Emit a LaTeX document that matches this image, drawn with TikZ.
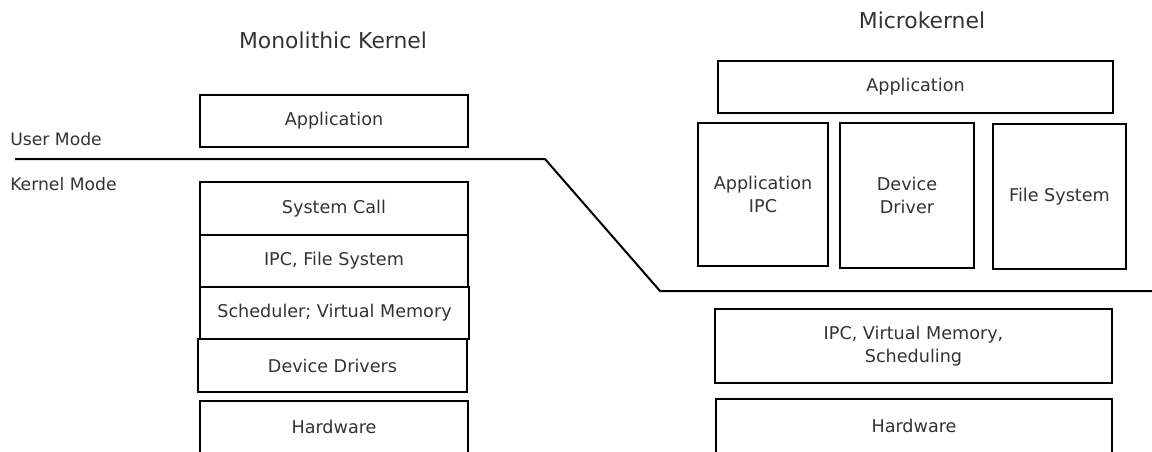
\documentclass[tikz,border=0pt]{standalone}
\usepackage{fontspec}
\setmainfont{DejaVu Sans}
\newcommand{\pxl}{0.75pt}
\tikzset{
  layer/.style = {draw, line width=1.4pt, align=center, inner sep=0pt, text=black!80, font=\fontsize{13.2}{17}\selectfont},
  caption/.style = {text=black!80, font=\fontsize{16.4}{19}\selectfont},
  modetext/.style = {anchor=west, inner sep=0pt, text=black!80, font=\fontsize{12.9}{15}\selectfont}
}
\begin{document}
\begin{tikzpicture}[x=0.75pt, y=-0.75pt]
\useasboundingbox (0,0) rectangle (1152,451);
\clip (0,0) rectangle (1152,451);
% titles
\node[caption] (mtitle) at (333,40) {Monolithic Kernel};
\node[caption] (utitle) at (922,20) {Microkernel};
% mode labels
\node[modetext] (user) at (10,139) {User Mode};
\node[modetext] (kernel) at (10,184) {Kernel Mode};
% user / kernel border
\coordinate (bstart) at (15,159);
\coordinate (bend1) at (545,159);
\coordinate (bend2) at (660,291);
\coordinate (bstop) at (1152,291);
\draw[line width=1.5pt] (bstart) -- (bend1) -- (bend2) -- (bstop);
% monolithic kernel stack
\node[layer, minimum width=268*\pxl, minimum height=52*\pxl] (mapp) at (334,121) {Application};
\node[layer, minimum width=268*\pxl, minimum height=53*\pxl] (msys) at (334,208.5) {System Call};
\node[layer, minimum width=268*\pxl, minimum height=52*\pxl] (mipc) at (334,261) {IPC, File System};
\node[layer, minimum width=269*\pxl, minimum height=52*\pxl] (msched) at (334.5,313) {Scheduler; Virtual Memory};
\node[layer, minimum width=269*\pxl, minimum height=53*\pxl] (mdrv) at (332.5,365.5) {Device Drivers};
\node[layer, minimum width=268*\pxl, minimum height=100*\pxl] (mhw) at (334,451) {};
\node[layer, draw=none] (mhwtext) at (334,427) {Hardware};
% microkernel stack
\node[layer, minimum width=395*\pxl, minimum height=52*\pxl] (uapp) at (915.5,87) {Application};
\node[layer, minimum width=130*\pxl, minimum height=143*\pxl] (uipc) at (763,194.5) {Application\\IPC};
\node[layer, minimum width=134*\pxl, minimum height=145*\pxl] (udrv) at (907,195.5) {Device\\Driver};
\node[layer, minimum width=133*\pxl, minimum height=145*\pxl] (ufs) at (1059.5,196.5) {File System};
\node[layer, minimum width=397*\pxl, minimum height=74*\pxl] (ukern) at (913.5,346) {IPC, Virtual Memory,\\Scheduling};
\node[layer, minimum width=396*\pxl, minimum height=104*\pxl] (uhw) at (914,451) {};
\node[layer, draw=none] (uhwtext) at (914,426) {Hardware};
\end{tikzpicture}
\end{document}
